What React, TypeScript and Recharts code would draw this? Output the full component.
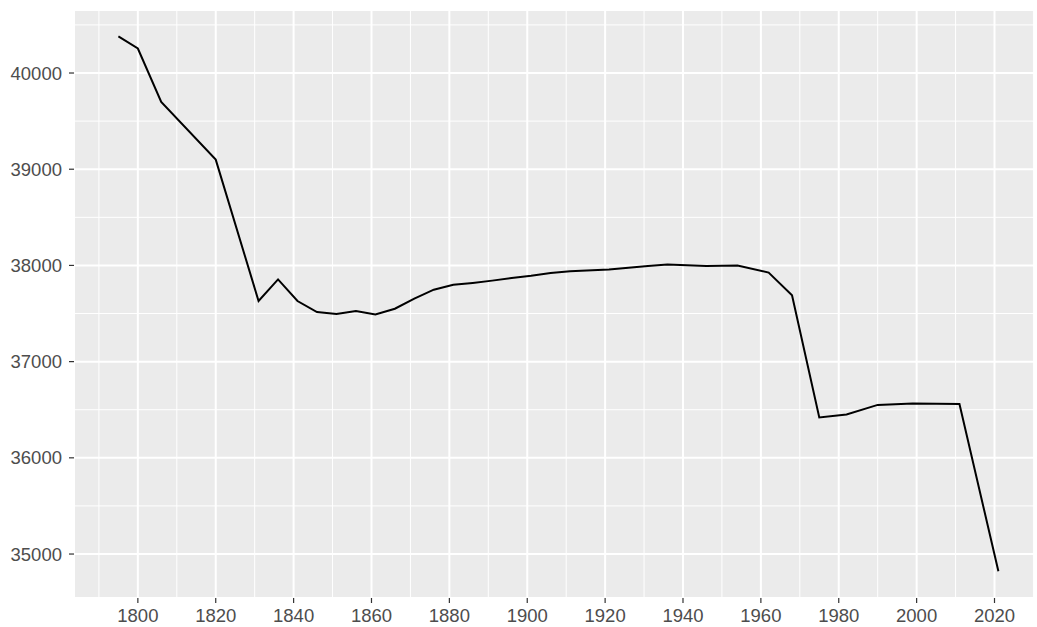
import { CartesianGrid, Line, LineChart, ReferenceLine, XAxis, YAxis } from "recharts";

const years = [
  1795, 1800, 1806, 1820, 1831, 1836, 1841, 1846, 1851, 1856, 1861, 1866, 1871,
  1876, 1881, 1886, 1891, 1896, 1901, 1906, 1911, 1921, 1926, 1931, 1936, 1946,
  1954, 1962, 1968, 1975, 1982, 1990, 1999, 2011, 2021,
];
const counts = [
  40380, 40255, 39700, 39100, 37630, 37855, 37630, 37515, 37495, 37525, 37490,
  37550, 37655, 37748, 37798, 37818, 37842, 37870, 37892, 37920, 37940, 37957,
  37975, 37995, 38010, 37995, 38000, 37925, 37690, 36420, 36450, 36550, 36565,
  36560, 34820,
];

const xTicks = [1800, 1820, 1840, 1860, 1880, 1900, 1920, 1940, 1960, 1980, 2000, 2020];
const xMinor = [1790, 1810, 1830, 1850, 1870, 1890, 1910, 1930, 1950, 1970, 1990, 2010, 2030];
const yTicks = [35000, 36000, 37000, 38000, 39000, 40000];
const yMinor = [35500, 36500, 37500, 38500, 39500, 40500];

const data = years.map((year, i) => ({ year, count: counts[i] }));

const tickStyle = { fontSize: 18.5, fill: "#4D4D4D", fontFamily: "Liberation Sans, Arial, sans-serif" };

export default function App() {
  return (
    <div style={{ position: "absolute", left: 0, top: 0, width: 1037, height: 627, background: "#fff" }}>
      <LineChart width={1037} height={627} data={data} margin={{ top: 10, right: 2, bottom: 0, left: 0 }}>
        <CartesianGrid fill="#EBEBEB" stroke="#FFFFFF" strokeWidth={2} />
        {xMinor.map((x) => (
          <ReferenceLine key={`vx${x}`} x={x} stroke="#FFFFFF" strokeWidth={1} />
        ))}
        {yMinor.map((y) => (
          <ReferenceLine key={`hy${y}`} y={y} stroke="#FFFFFF" strokeWidth={1} />
        ))}
        <XAxis
          dataKey="year"
          type="number"
          domain={[1783.6, 2030.4]}
          allowDataOverflow
          ticks={xTicks}
          height={29}
          axisLine={false}
          tickSize={5}
          tickMargin={6}
          tickLine={{ stroke: "#333333", strokeWidth: 1.2 }}
          tick={tickStyle}
        />
        <YAxis
          type="number"
          domain={[34543, 40655]}
          allowDataOverflow
          ticks={yTicks}
          width={74}
          axisLine={false}
          tickSize={5}
          tickMargin={7}
          tickLine={{ stroke: "#333333", strokeWidth: 1.2 }}
          tick={tickStyle}
        />
        <Line
          type="linear"
          dataKey="count"
          stroke="#000000"
          strokeWidth={2}
          dot={false}
          isAnimationActive={false}
        />
      </LineChart>
    </div>
  );
}
